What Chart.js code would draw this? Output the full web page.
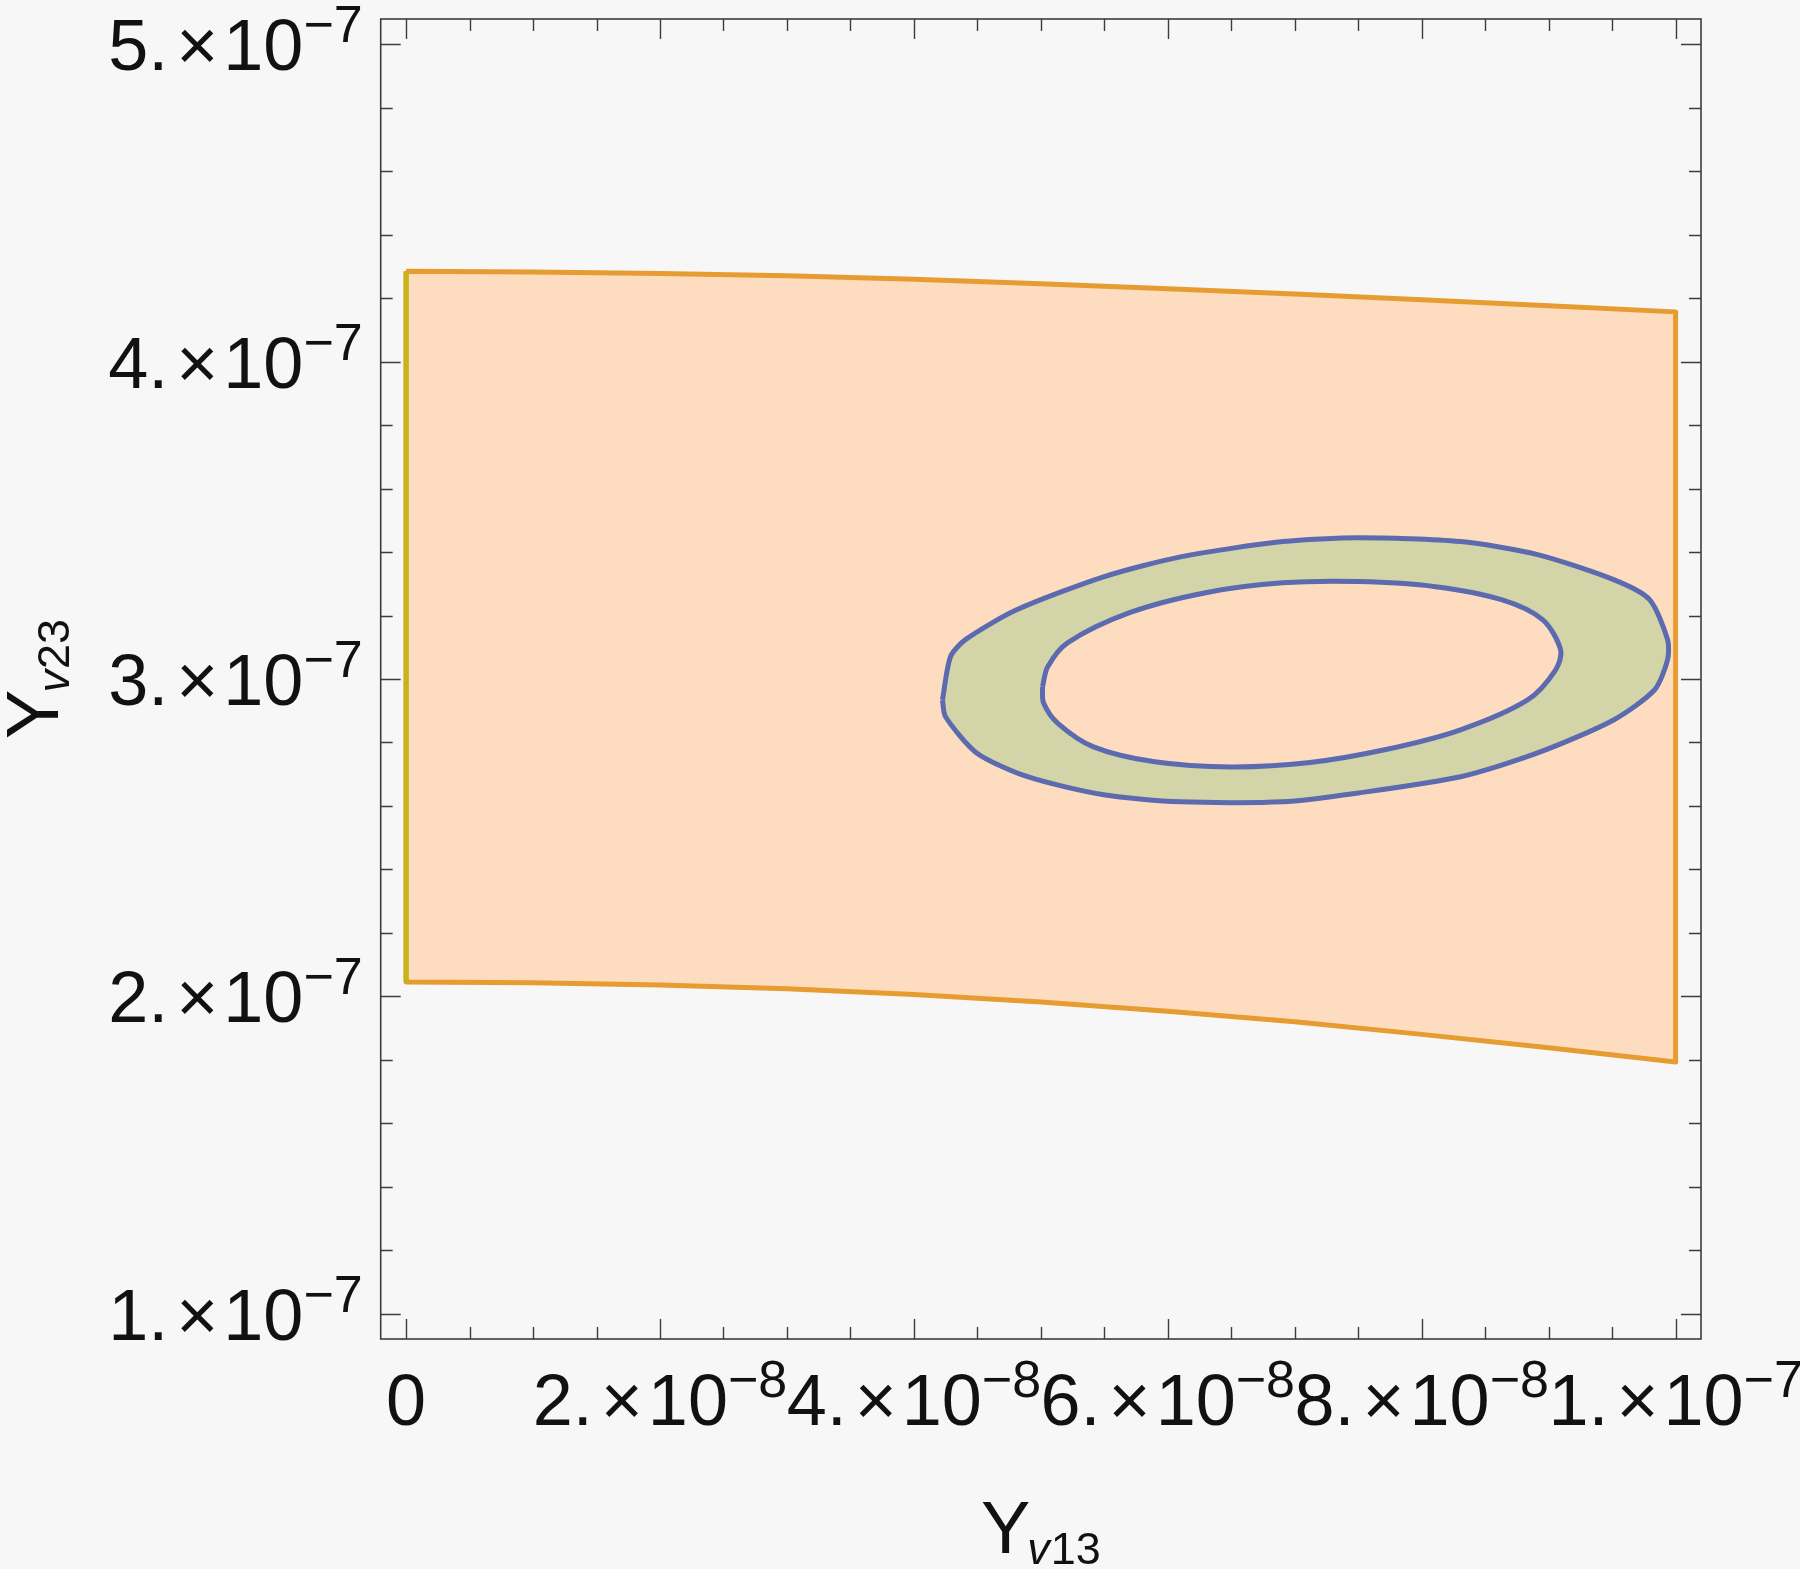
<!DOCTYPE html>
<html>
<head>
<meta charset="utf-8">
<script src="https://cdn.jsdelivr.net/npm/chart.js@4/dist/chart.umd.min.js"></script>
<style>
html, body { margin: 0; padding: 0; background: #f7f7f7; }
#wrap { width: 1800px; height: 1569px; }
</style>
</head>
<body>
<div id="wrap"><canvas id="plot" width="1800" height="1569"></canvas></div>
<script>
// allowed band (orange): upper and lower edge along Y_v13
const bandX = [0, 1e-8, 2e-8, 3e-8, 4e-8, 5e-8, 6e-8, 7e-8, 8e-8, 9e-8, 1e-7];
const bandTop = [4.285e-7, 4.283e-7, 4.278e-7, 4.271e-7, 4.260e-7, 4.246e-7, 4.230e-7, 4.213e-7, 4.195e-7, 4.176e-7, 4.157e-7];
const bandBottom = [2.045e-7, 2.043e-7, 2.036e-7, 2.024e-7, 2.006e-7, 1.982e-7, 1.953e-7, 1.920e-7, 1.880e-7, 1.838e-7, 1.793e-7];

// ring: outer contour
const outerX = [4.225e-8, 4.249e-8, 4.494e-8, 4.895e-8, 5.494e-8, 6.100e-8, 6.904e-8, 7.503e-8, 8.306e-8, 8.913e-8, 9.512e-8, 9.835e-8, 9.937e-8,
                9.937e-8, 9.795e-8, 9.512e-8, 8.913e-8, 8.306e-8, 7.503e-8, 6.904e-8, 6.100e-8, 5.494e-8, 4.809e-8, 4.406e-8, 4.288e-8, 4.225e-8];
const outerY = [2.934e-7, 2.881e-7, 2.767e-7, 2.692e-7, 2.635e-7, 2.613e-7, 2.613e-7, 2.641e-7, 2.692e-7, 2.767e-7, 2.871e-7, 2.966e-7, 3.061e-7,
                3.124e-7, 3.250e-7, 3.313e-7, 3.392e-7, 3.433e-7, 3.445e-7, 3.433e-7, 3.385e-7, 3.322e-7, 3.218e-7, 3.124e-7, 3.070e-7, 2.934e-7];

// ring: inner contour
const innerX = [5.013e-8, 5.053e-8, 5.210e-8, 5.699e-8, 6.298e-8, 6.904e-8, 7.503e-8, 8.109e-8, 8.629e-8, 8.952e-8, 9.094e-8,
                9.055e-8, 8.834e-8, 8.306e-8, 7.708e-8, 7.102e-8, 6.503e-8, 5.896e-8, 5.415e-8, 5.132e-8, 5.021e-8, 5.013e-8];
const innerY = [2.975e-7, 3.038e-7, 3.114e-7, 3.209e-7, 3.272e-7, 3.303e-7, 3.307e-7, 3.291e-7, 3.250e-7, 3.187e-7, 3.092e-7,
                3.029e-7, 2.934e-7, 2.840e-7, 2.777e-7, 2.736e-7, 2.723e-7, 2.739e-7, 2.786e-7, 2.861e-7, 2.925e-7, 2.975e-7];

// ticks
const xMajorTicks = [0, 2e-8, 4e-8, 6e-8, 8e-8, 1e-7];
const xTickMantissa = ['0', '2.', '4.', '6.', '8.', '1.'];
const xTickExponent = ['', '\u22128', '\u22128', '\u22128', '\u22128', '\u22127'];
const yMajorTicks = [1e-7, 2e-7, 3e-7, 4e-7, 5e-7];
const yTickMantissa = ['1.', '2.', '3.', '4.', '5.'];
const yTickExponent = ['\u22127', '\u22127', '\u22127', '\u22127', '\u22127'];
const xMinorStep = 5e-9;
const yMinorStep = 2e-8;

const FONT = '"Liberation Sans", Arial, Helvetica, sans-serif';

function toPoints(xs, ys) {
    return xs.map((x, i) => ({ x: x, y: ys[i] }));
}

// closed band outline: top edge left->right, bottom edge right->left
const bandPts = toPoints(bandX, bandTop)
    .concat(toPoints(bandX.slice().reverse(), bandBottom.slice().reverse()));
bandPts.push(bandPts[0]);

function drawSci(ctx, mant, exp, x, base, align) {
    const big = '72px ' + FONT;
    const small = '52px ' + FONT;
    let parts;
    if (!exp) {
        parts = [[mant, big, 0, 0]];
    } else {
        parts = [[mant, big, 0, 0], ['\u00d7', big, 8, 0], ['10', big, 5, 0], [exp, small, 0, -28]];
    }
    let total = 0;
    parts.forEach(p => { ctx.font = p[1]; p.push(ctx.measureText(p[0]).width); total += p[2] + p[4]; });
    let cx = align === 'center' ? x - total / 2 : x - total;
    ctx.textAlign = 'left';
    ctx.textBaseline = 'alphabetic';
    parts.forEach(p => {
        cx += p[2];
        ctx.font = p[1];
        ctx.fillText(p[0], cx, base + p[3]);
        cx += p[4];
    });
}

function drawTitle(ctx, sub, x, base) {
    const parts = [['Y', '74px ' + FONT, 0, 0], ['v', 'italic 45px ' + FONT, -3, 11], [sub, '45px ' + FONT, 1, 11]];
    let total = 0;
    parts.forEach(p => { ctx.font = p[1]; p.push(ctx.measureText(p[0]).width); total += p[2] + p[4]; });
    let cx = x - total / 2;
    ctx.textAlign = 'left';
    ctx.textBaseline = 'alphabetic';
    parts.forEach(p => {
        cx += p[2];
        ctx.font = p[1];
        ctx.fillText(p[0], cx, base + p[3]);
        cx += p[4];
    });
}

const mmaFrame = {
    id: 'mmaFrame',
    beforeDraw(chart) {
        const c = chart.ctx;
        c.save();
        c.fillStyle = '#f7f7f7';
        c.fillRect(0, 0, chart.width, chart.height);
        c.restore();
    },
    afterDraw(chart) {
        const ctx = chart.ctx;
        const a = chart.chartArea;
        const sx = chart.scales.x;
        const sy = chart.scales.y;
        ctx.save();
        ctx.strokeStyle = '#3c3c3c';
        ctx.lineWidth = 1.6;
        ctx.strokeRect(a.left, a.top, a.right - a.left, a.bottom - a.top);

        ctx.lineWidth = 1.4;
        ctx.beginPath();
        // x ticks, bottom and top, pointing inward
        for (let v = 0; v <= 1e-7 + 1e-12; v += xMinorStep) {
            const major = xMajorTicks.some(t => Math.abs(t - v) < 1e-12);
            const len = major ? 20 : 12;
            const px = Math.round(sx.getPixelForValue(v)) + 0.5;
            ctx.moveTo(px, a.bottom); ctx.lineTo(px, a.bottom - len);
            ctx.moveTo(px, a.top); ctx.lineTo(px, a.top + len);
        }
        // y ticks, left and right
        for (let v = 1e-7; v <= 5e-7 + 1e-12; v += yMinorStep) {
            const major = yMajorTicks.some(t => Math.abs(t - v) < 1e-12);
            const len = major ? 20 : 12;
            const py = Math.round(sy.getPixelForValue(v)) + 0.5;
            ctx.moveTo(a.left, py); ctx.lineTo(a.left + len, py);
            ctx.moveTo(a.right, py); ctx.lineTo(a.right - len, py);
        }
        ctx.stroke();

        ctx.fillStyle = '#111';
        xMajorTicks.forEach((v, i) => {
            drawSci(ctx, xTickMantissa[i], xTickExponent[i], sx.getPixelForValue(v), a.bottom + 86, 'center');
        });
        yMajorTicks.forEach((v, i) => {
            drawSci(ctx, yTickMantissa[i], yTickExponent[i], a.left - 18, sy.getPixelForValue(v) + 26, 'right');
        });

        drawTitle(ctx, '13', (a.left + a.right) / 2, 1553);
        ctx.translate(58, (a.top + a.bottom) / 2);
        ctx.rotate(-Math.PI / 2);
        drawTitle(ctx, '23', 0, 0);
        ctx.restore();
    }
};

const ctx = document.getElementById('plot').getContext('2d');
const chart = new Chart(ctx, {
    type: 'scatter',
    data: {
        datasets: [{
            label: 'inner',
            data: toPoints(innerX, innerY),
            showLine: true,
            fill: 'shape',
            backgroundColor: 'rgb(254,220,192)',
            borderColor: 'rgb(92,106,176)',
            borderWidth: 5,
            borderJoinStyle: 'round',
            pointRadius: 0,
            tension: 0.3,
            order: 0
        }, {
            label: 'outer',
            data: toPoints(outerX, outerY),
            showLine: true,
            fill: 'shape',
            backgroundColor: 'rgb(211,212,168)',
            borderColor: 'rgb(92,106,176)',
            borderWidth: 5,
            borderJoinStyle: 'round',
            pointRadius: 0,
            tension: 0.25,
            order: 1
        }, {
            label: 'left edge',
            data: [{ x: bandX[0], y: bandBottom[0] }, { x: bandX[0], y: bandTop[0] }],
            showLine: true,
            fill: false,
            borderColor: 'rgb(200,180,24)',
            borderWidth: 5,
            pointRadius: 0,
            tension: 0,
            order: 2
        }, {
            label: 'band',
            data: bandPts,
            showLine: true,
            fill: 'shape',
            backgroundColor: 'rgb(254,220,192)',
            borderColor: 'rgb(230,156,48)',
            borderWidth: 5,
            borderJoinStyle: 'round',
            pointRadius: 0,
            tension: 0,
            order: 3
        }]
    },
    options: {
        responsive: false,
        devicePixelRatio: 1,
        animation: false,
        layout: { padding: { left: 380.7, top: 19, right: 99, bottom: 230 } },
        scales: {
            x: { type: 'linear', min: -2e-9, max: 1.02e-7, display: false },
            y: { type: 'linear', min: 0.92e-7, max: 5.08e-7, display: false }
        },
        plugins: {
            legend: { display: false },
            tooltip: { enabled: false }
        }
    },
    plugins: [mmaFrame]
});
</script>
</body>
</html>
